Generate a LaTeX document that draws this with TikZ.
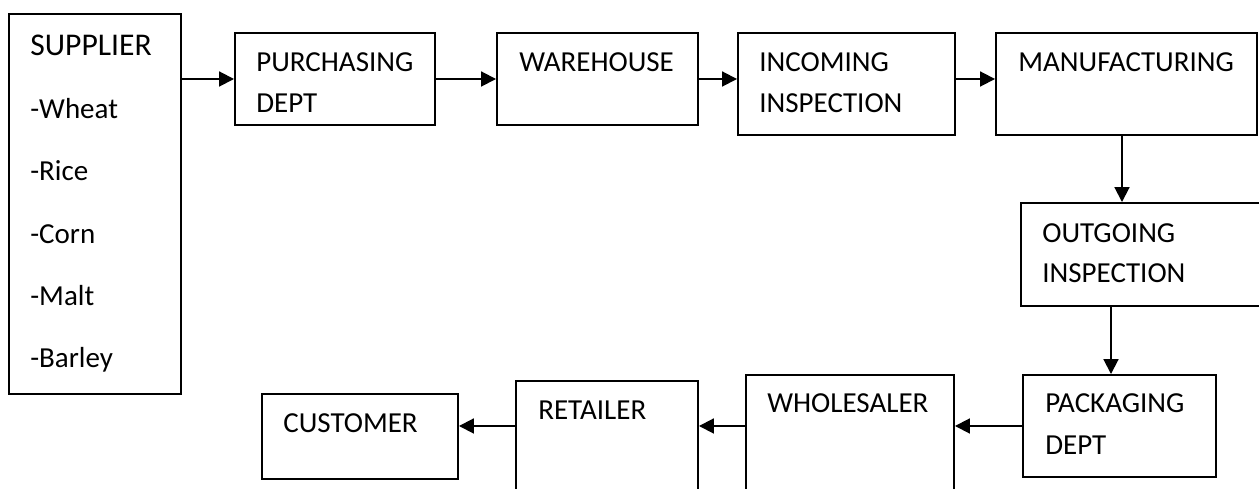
\documentclass[tikz,border=0pt]{standalone}
\usepackage{fontspec}
\setmainfont{Carlito}
\usetikzlibrary{arrows.meta,positioning}

\begin{document}
\begin{tikzpicture}[
  x=0.02cm, y=-0.02cm,
  box/.style={draw, rectangle, line width=1.1pt, inner sep=0pt},
  lbl/.style={anchor=base west, inner sep=0pt, font=\fontsize{16.5}{18}\selectfont},
  flow/.style={line width=1.1pt, -{Triangle[length=8.5pt, width=8.5pt]}}
]
  \clip (0,0) rectangle (1259,489);

  % boxes
  \node[box, minimum width=172*0.02cm, minimum height=380*0.02cm] (supplier) at (95,204) {};
  \node[box, minimum width=200*0.02cm, minimum height=92*0.02cm]  (purch)    at (335,79) {};
  \node[box, minimum width=201*0.02cm, minimum height=92*0.02cm]  (wareh)    at (597.5,79) {};
  \node[box, minimum width=217*0.02cm, minimum height=102*0.02cm] (incoming) at (846.5,84) {};
  \node[box, minimum width=261*0.02cm, minimum height=102*0.02cm] (manuf)    at (1126.5,84) {};
  \node[box, minimum width=279*0.02cm, minimum height=103*0.02cm] (outgoing) at (1160.5,254.5) {};
  \node[box, minimum width=193*0.02cm, minimum height=102*0.02cm] (pack)     at (1119.5,426) {};
  \node[box, minimum width=208*0.02cm, minimum height=185*0.02cm] (wholes)   at (850,467.5) {};
  \node[box, minimum width=182*0.02cm, minimum height=179*0.02cm] (retail)   at (607,470.5) {};
  \node[box, minimum width=196*0.02cm, minimum height=85*0.02cm]  (cust)     at (360,436.5) {};

  % texts
  \node[lbl, font=\fontsize{18}{20}\selectfont] (supplier-t) at (30,56) {SUPPLIER};
  \foreach \item [count=\i] in {Wheat,Rice,Corn,Malt,Barley}
    \node[lbl] (supplier-\i) at (30,56+62.4*\i) {-\item};
  \node[lbl] (purch-t1)    at (256,72)   {PURCHASING};
  \node[lbl] (purch-t2)    at (256,113)  {DEPT};
  \node[lbl] (wareh-t)     at (519,72)   {WAREHOUSE};
  \node[lbl] (incoming-t1) at (759,72)   {INCOMING};
  \node[lbl] (incoming-t2) at (759,113)  {INSPECTION};
  \node[lbl] (manuf-t)     at (1018,72)  {MANUFACTURING};
  \node[lbl] (outgoing-t1) at (1042,243) {OUTGOING};
  \node[lbl] (outgoing-t2) at (1042,283) {INSPECTION};
  \node[lbl] (pack-t1)     at (1045,413) {PACKAGING};
  \node[lbl] (pack-t2)     at (1045,455) {DEPT};
  \node[lbl] (wholes-t)    at (767,413)  {WHOLESALER};
  \node[lbl] (retail-t)    at (538,420)  {RETAILER};
  \node[lbl] (cust-t)      at (283,433)  {CUSTOMER};

  % flow
  \draw[flow] (supplier.east |- purch.west) -- (purch.west);
  \draw[flow] (purch) -- (wareh);
  \draw[flow] (wareh.east) -- (wareh.east -| incoming.west);
  \draw[flow] (incoming.west |- wareh.east) ++(217,0) coordinate (inc-out) -- (inc-out -| manuf.west);
  \draw[flow] ([xshift=-4.5*0.02cm]manuf.south) -- ([xshift=-4.5*0.02cm]manuf.south |- outgoing.north);
  \draw[flow] ([xshift=-8.5*0.02cm]pack.north |- outgoing.south) -- ([xshift=-8.5*0.02cm]pack.north);
  \draw[flow] (pack.west) -- (pack.west -| wholes.east);
  \draw[flow] (wholes.west |- pack.west) -- (retail.east |- pack.west);
  \draw[flow] (retail.west |- pack.west) -- (cust.east |- pack.west);
\end{tikzpicture}
\end{document}
